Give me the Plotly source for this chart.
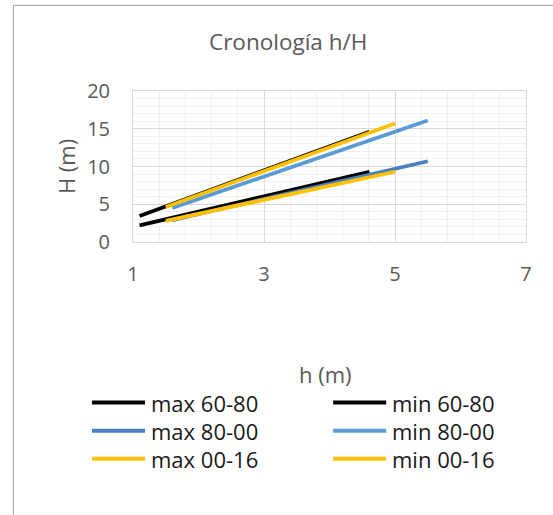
import plotly.graph_objects as go

# Data
series_names = ["max 60-80", "min 60-80", "max 80-00", "min 80-00", "max 00-16", "min 00-16"]
h_max_6080 = [1.10, 4.61]
H_max_6080 = [2.2, 9.3]
h_min_6080 = [1.10, 4.61]
H_min_6080 = [3.45, 14.6]
h_max_8000 = [1.60, 5.50]
H_max_8000 = [2.9, 10.7]
h_min_8000 = [1.60, 5.50]
H_min_8000 = [4.5, 16.1]
h_max_0016 = [1.50, 5.00]
H_max_0016 = [2.8, 9.3]
h_min_0016 = [1.50, 5.00]
H_min_0016 = [4.65, 15.7]
colors = ["#000000", "#000000", "#4a80c0", "#5b9bd5", "#ffc000", "#ffc000"]

xs = [h_max_6080, h_min_6080, h_max_8000, h_min_8000, h_max_0016, h_min_0016]
ys = [H_max_6080, H_min_6080, H_max_8000, H_min_8000, H_max_0016, H_min_0016]

W, H = 553, 515
L, R, T, B = 133, 27.3, 91, 273.3
pw, ph = W - L - R, H - T - B


def px(xp):
    return (xp - L) / pw


def py(yp):
    return (H - B - yp) / ph


fig = go.Figure()
for name, x, y, c in zip(series_names, xs, ys, colors):
    fig.add_trace(go.Scatter(x=x, y=y, mode="lines", name=name, showlegend=False,
                             line=dict(color=c, width=3.75)))

FONT = "Open Sans"
GREY = "#595959"
tick_font = dict(family=FONT, size=20, color=GREY)

fig.update_layout(
    width=W, height=H,
    margin=dict(l=L, r=R, t=T, b=B, pad=0),
    paper_bgcolor="white", plot_bgcolor="white",
    font=dict(family=FONT),
    showlegend=False,
    xaxis=dict(range=[1, 7], dtick=2, tick0=1, showgrid=True, gridcolor="#d9d9d9", gridwidth=1,
               minor=dict(dtick=0.4, tick0=1, showgrid=True, gridcolor="#f0f0f0", gridwidth=1),
               zeroline=False, showline=True, linecolor="#d9d9d9", mirror=True,
               ticks="outside", ticklen=14, tickcolor="rgba(0,0,0,0)",
               tickfont=tick_font, fixedrange=True),
    yaxis=dict(range=[0, 20], dtick=5, showgrid=True, gridcolor="#d9d9d9", gridwidth=1,
               minor=dict(dtick=1, showgrid=True, gridcolor="#f0f0f0", gridwidth=1),
               zeroline=False, showline=True, linecolor="#d9d9d9", mirror=True,
               ticks="outside", ticklen=18, tickcolor="rgba(0,0,0,0)",
               tickfont=tick_font, fixedrange=True),
)

# Title
fig.add_annotation(text="Cronología h/H", xref="paper", yref="paper",
                   x=px(287.5), y=py(42), showarrow=False,
                   xanchor="center", yanchor="middle",
                   font=dict(family=FONT, size=22.5, color=GREY))
# Axis titles
fig.add_annotation(text="h (m)", xref="paper", yref="paper",
                   x=px(325), y=py(373), showarrow=False,
                   xanchor="center", yanchor="middle",
                   font=dict(family=FONT, size=22, color=GREY))
fig.add_annotation(text="H (m)", xref="paper", yref="paper", textangle=-90,
                   x=px(66), y=py(166), showarrow=False,
                   xanchor="center", yanchor="middle",
                   font=dict(family=FONT, size=22, color=GREY))

# Legend (two columns, row-major order)
col_x = [92, 333]
row_y = [402, 430, 458]
for i, (name, c) in enumerate(zip(series_names, colors)):
    cx = col_x[i % 2]
    ry = row_y[i // 2]
    fig.add_shape(type="line", xref="paper", yref="paper",
                  x0=px(cx), x1=px(cx + 53), y0=py(ry), y1=py(ry),
                  line=dict(color=c, width=4))
    fig.add_annotation(text=name, xref="paper", yref="paper",
                       x=px(cx + 57), y=py(ry), showarrow=False,
                       xanchor="left", yanchor="middle",
                       font=dict(family=FONT, size=22, color="#1a1a1a"))

# outer chart border (only left/top visible in reference)
fig.add_shape(type="rect", xref="paper", yref="paper",
              x0=px(13.5), x1=px(W + 50), y0=py(H + 50), y1=py(5.5),
              line=dict(color="#a0a0a0", width=1), fillcolor="rgba(0,0,0,0)", layer="below")

fig.write_html("out.html")
